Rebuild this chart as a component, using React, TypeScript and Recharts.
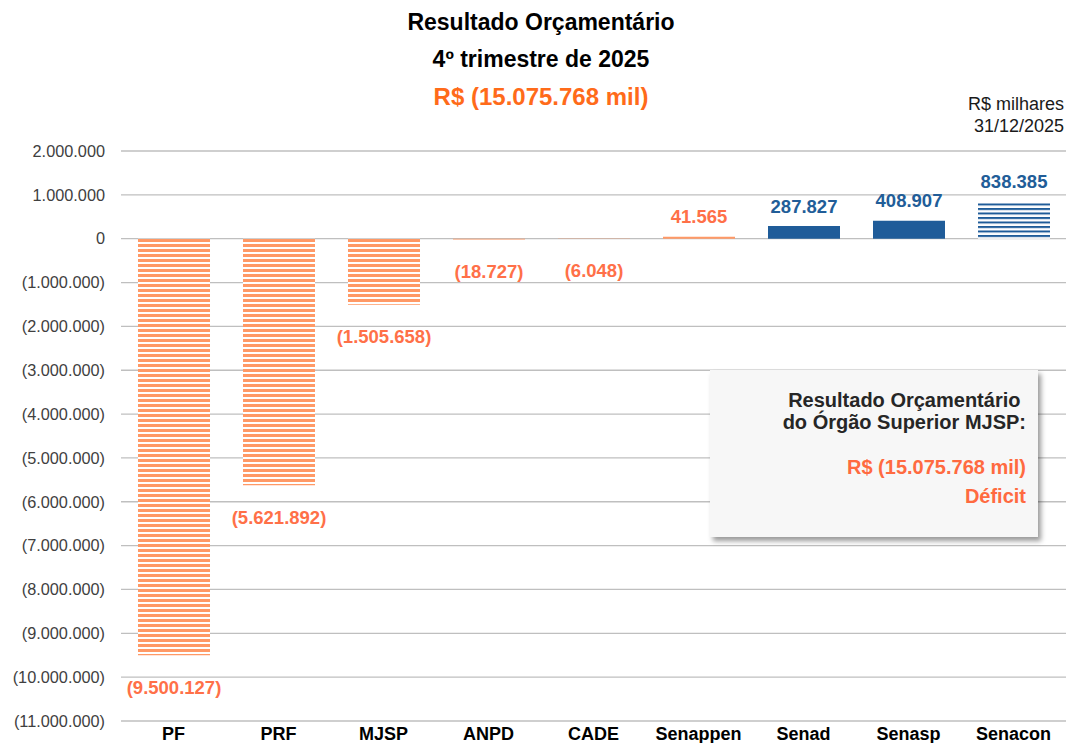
import { Bar, BarChart, CartesianGrid, Cell, LabelList, XAxis, YAxis } from "recharts"

// Resultado orçamentário por unidade, R$ mil
const categories = ["PF", "PRF", "MJSP", "ANPD", "CADE", "Senappen", "Senad", "Senasp", "Senacon"]
const values = [-9500127, -5621892, -1505658, -18727, -6048, 41565, 287827, 408907, 838385]
const yTicks = [
  2000000, 1000000, 0, -1000000, -2000000, -3000000, -4000000, -5000000, -6000000, -7000000, -8000000,
  -9000000, -10000000, -11000000,
]

const fills = [
  "url(#stripeOrange)",
  "url(#stripeOrange)",
  "url(#stripeOrange)",
  "#FF9966",
  "#FF9966",
  "#FF9966",
  "#1F5C99",
  "#1F5C99",
  "url(#stripeBlue)",
]
const labelColors = ["#FF7048", "#FF7048", "#FF7048", "#FF7048", "#FF7048", "#FF7048", "#215D98", "#215D98", "#215D98"]

const FONT = "'Liberation Sans', Arial, sans-serif"

const data = categories.map((name, i) => ({ name, value: values[i] }))

function fmt(v: number) {
  const s = String(Math.abs(v)).replace(/\B(?=(\d{3})+(?!\d))/g, ".")
  return v < 0 ? `(${s})` : s
}

function ValueLabel(props: any) {
  const { x, y, width, height, value, index } = props
  const top = Math.min(y, y + height)
  const bottom = Math.max(y, y + height)
  const cx = x + width / 2
  const ty = value < 0 ? bottom + 32 : top - 20
  return (
    <text
      x={cx}
      y={ty}
      textAnchor="middle"
      dominantBaseline="central"
      fill={labelColors[index]}
      fontSize={18.5}
      fontWeight="bold"
      fontFamily={FONT}
    >
      {fmt(value)}
    </text>
  )
}

export default function App() {
  return (
    <div
      style={{
        position: "fixed",
        left: 0,
        top: 0,
        width: 1067,
        height: 743,
        overflow: "hidden",
        background: "#fff",
        fontFamily: FONT,
      }}
    >
      <svg width={0} height={0} style={{ position: "absolute" }}>
        <defs>
          <pattern id="stripeOrange" patternUnits="userSpaceOnUse" x={0} y={239} width={10} height={5}>
            <rect x={0} y={0} width={10} height={5} fill="#ffffff" />
            <rect x={0} y={0} width={10} height={3} fill="#FF9966" />
          </pattern>
          <pattern id="stripeBlue" patternUnits="userSpaceOnUse" x={0} y={203.5} width={10} height={4.5}>
            <rect x={0} y={0} width={10} height={4.5} fill="#ffffff" />
            <rect x={0} y={0} width={10} height={2} fill="#1F5C99" />
          </pattern>
        </defs>
      </svg>

      <div
        style={{
          position: "absolute",
          left: 241,
          width: 600,
          top: 4,
          textAlign: "center",
          fontWeight: "bold",
          fontSize: 23,
          lineHeight: "37px",
          color: "#000",
        }}
      >
        <div>Resultado Orçamentário</div>
        <div>4º trimestre de 2025</div>
        <div style={{ color: "#FF6B1A", fontSize: 24 }}>R$ (15.075.768 mil)</div>
      </div>

      <div
        style={{
          position: "absolute",
          right: 3,
          top: 93,
          textAlign: "right",
          fontSize: 18,
          lineHeight: "22px",
          color: "#1a1a1a",
        }}
      >
        <div>R$ milhares</div>
        <div>31/12/2025</div>
      </div>

      <BarChart
        width={1067}
        height={743}
        data={data}
        margin={{ top: 151, right: 1, bottom: 0, left: 0 }}
        barSize={72}
        style={{ position: "absolute", left: 0, top: 0 }}
      >
        <CartesianGrid vertical={false} stroke="#bfbfbf" strokeWidth={1.3} />
        <XAxis
          dataKey="name"
          height={22}
          axisLine={false}
          tickLine={false}
          tickSize={0}
          tickMargin={6}
          interval={0}
          tick={{ fill: "#000", fontSize: 18, fontWeight: "bold", fontFamily: FONT }}
        />
        <YAxis
          type="number"
          domain={[-11000000, 2000000]}
          ticks={yTicks}
          width={121}
          axisLine={false}
          tickLine={false}
          tickSize={0}
          tickMargin={16}
          interval={0}
          tickFormatter={(v: number) => fmt(v)}
          tick={{ fill: "#404040", fontSize: 16.3, fontFamily: FONT }}
        />
        <Bar dataKey="value" isAnimationActive={false}>
          {data.map((d, i) => (
            <Cell key={d.name} fill={fills[i]} />
          ))}
          <LabelList dataKey="value" content={<ValueLabel />} />
        </Bar>
      </BarChart>

      <div
        style={{
          position: "absolute",
          left: 710,
          top: 370,
          width: 328,
          height: 167,
          background: "#f7f7f7",
          boxShadow: "3px 4px 5px rgba(0,0,0,0.4)",
          boxSizing: "border-box",
          paddingRight: 12,
          paddingTop: 19,
          textAlign: "right",
          fontWeight: "bold",
          fontSize: 20,
          lineHeight: "22px",
          color: "#262626",
        }}
      >
        <div>Resultado Orçamentário&nbsp;</div>
        <div>do Órgão Superior MJSP:</div>
        <div style={{ color: "#FF6A40", marginTop: 20, lineHeight: "29px" }}>R$ (15.075.768 mil)</div>
        <div style={{ color: "#FF6A40", lineHeight: "29px" }}>Déficit</div>
      </div>
    </div>
  )
}
